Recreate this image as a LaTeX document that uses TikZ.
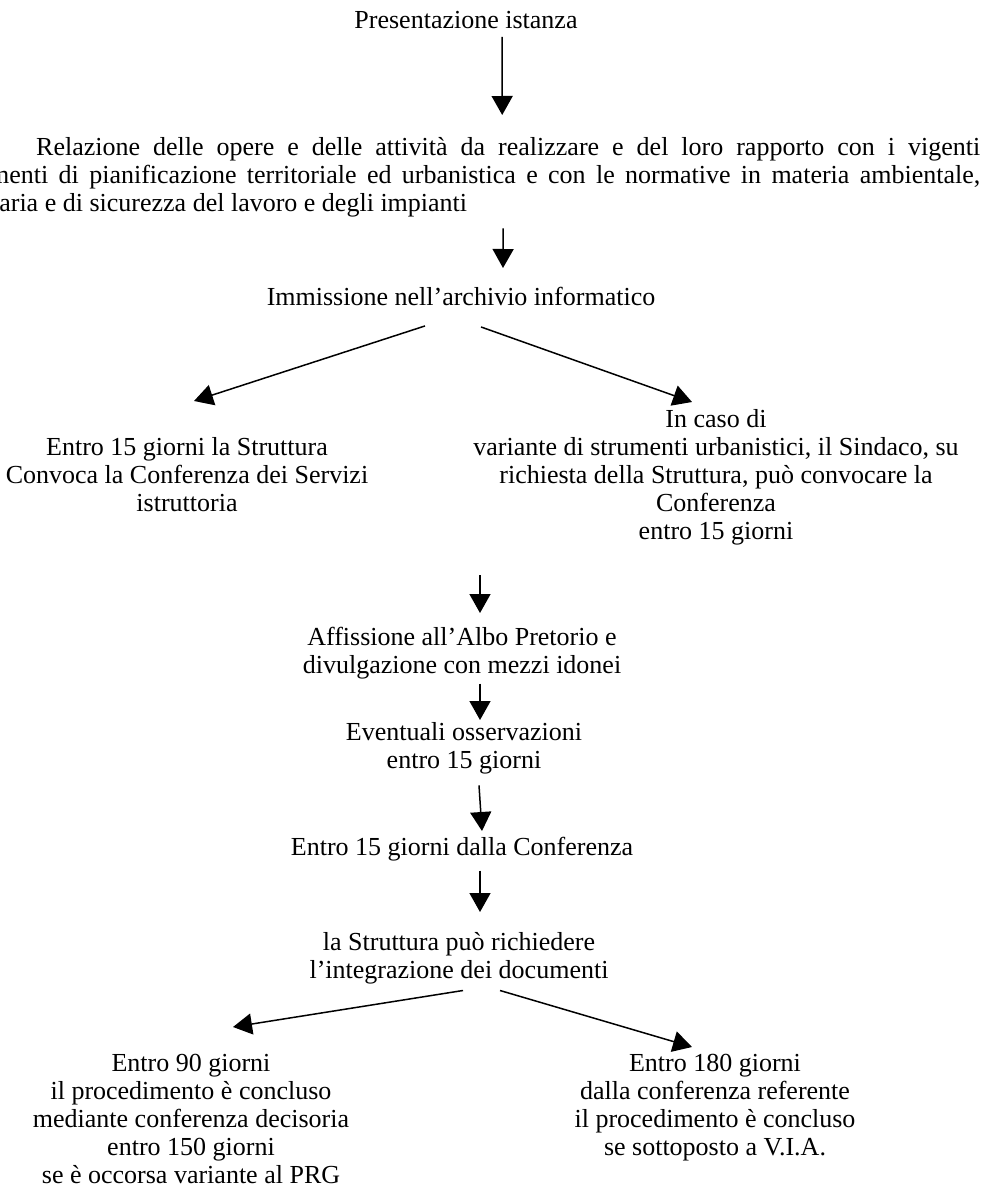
\documentclass[tikz,border=0pt]{standalone}
\usepackage{fontspec}
\setmainfont{Liberation Serif}
\usetikzlibrary{arrows.meta}
\tikzset{
  txt/.style={inner sep=0pt, align=center, font=\fontsize{26}{28}\selectfont},
  arr/.style={line width=1.5pt, -{Triangle[width=21pt,length=19pt]}},
}
\begin{document}
\begin{tikzpicture}[x=1pt,y=-1pt]
\useasboundingbox (0,0) rectangle (982,1196);
\clip (0,0) rectangle (982,1196);
\fill[white] (0,0) rectangle (982,1196);

\node[txt, anchor=north] (p1) at (466,11) {Presentazione istanza};
\node[txt, align=left, anchor=north west] (rel) at (-50,137)
  {\hspace*{86pt}\makebox[944pt][s]{Relazione delle opere e delle attività da realizzare e del loro rapporto con i vigenti}\\
   \makebox[1030pt][s]{strumenti di pianificazione territoriale ed urbanistica e con le normative in materia ambientale,}\\
   sanitaria e di sicurezza del lavoro e degli impianti};
\node[txt, anchor=north] (imm) at (461,287) {Immissione nell’archivio informatico};
\node[txt, anchor=north] (sx1) at (187,437) {Entro 15 giorni la Struttura\\Convoca la Conferenza dei Servizi\\istruttoria};
\node[txt, anchor=north] (dx1) at (716,409) {In caso di\\variante di strumenti urbanistici, il Sindaco, su\\richiesta della Struttura, può convocare la\\Conferenza\\entro 15 giorni};
\coordinate (m1) at (480,575);
\node[txt, anchor=north] (aff) at (462,627) {Affissione all’Albo Pretorio e\\divulgazione con mezzi idonei};
\node[txt, anchor=north] (ev) at (464,722) {Eventuali osservazioni\\entro 15 giorni};
\node[txt, anchor=north] (e15) at (462,837) {Entro 15 giorni dalla Conferenza};
\node[txt, anchor=north] (str) at (459,932) {la Struttura può richiedere\\l’integrazione dei documenti};
\node[txt, anchor=north] (bl) at (191,1054) {Entro 90 giorni\\il procedimento è concluso\\mediante conferenza decisoria\\entro 150 giorni\\se è occorsa variante al PRG};
\node[txt, anchor=north] (br) at (715,1054) {Entro 180 giorni\\dalla conferenza referente\\il procedimento è concluso\\se sottoposto a V.I.A.};

\draw[arr] ([shift={(36,8)}]p1.south) -- ([shift={(37,-22)}]rel.north);
\draw[arr] ([shift={(38,11.4)}]rel.south) -- ([shift={(42,-19)}]imm.north);
\draw[arr] ([shift={(-36,20)}]imm.south) -- ([shift={(7,-36)}]sx1.north);
\draw[arr] ([shift={(20,21)}]imm.south) -- ([shift={(-24,-7)}]dx1.north);
\draw[arr] (m1) -- ([shift={(18,-14)}]aff.north);
\draw[arr] ([shift={(18,4.4)}]aff.south) -- ([shift={(16,-2)}]ev.north);
\draw[arr] ([shift={(15,11.4)}]ev.south) -- ([shift={(20,-6)}]e15.north);
\draw[arr] ([shift={(18,9.4)}]e15.south) -- ([shift={(21,-20)}]str.north);
\draw[arr] ([shift={(4,6.4)}]str.south) -- ([shift={(42,-27)}]bl.north);
\draw[arr] ([shift={(41,6.4)}]str.south) -- ([shift={(-23,-7)}]br.north);
\end{tikzpicture}
\end{document}
